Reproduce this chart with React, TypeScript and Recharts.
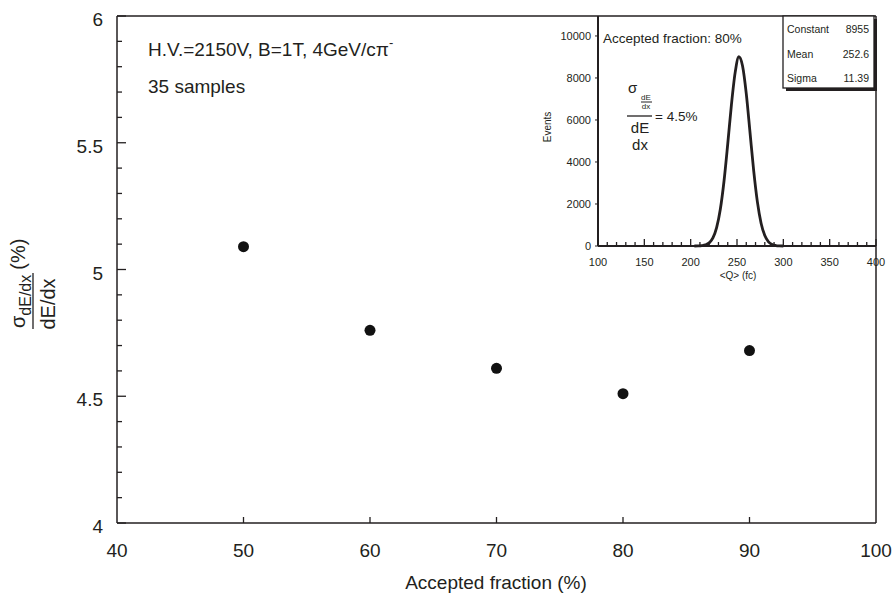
import React from "react";
import { ScatterChart, Scatter, XAxis, YAxis, ReferenceLine, LineChart, Line } from "recharts";

// main plot: resolution vs accepted fraction
const fractions = [50, 60, 70, 80, 90];
const resolution = [5.09, 4.76, 4.61, 4.51, 4.68];

const xTicks = [40, 50, 60, 70, 80, 90, 100];
const yMajor = [4, 4.5, 5, 5.5, 6];
const yMinor = [4.1, 4.2, 4.3, 4.4, 4.6, 4.7, 4.8, 4.9, 5.1, 5.2, 5.3, 5.4, 5.6, 5.7, 5.8, 5.9];

// inset: charge distribution at 80% accepted fraction
const charge = [204, 208, 212, 216, 220, 224, 228, 232, 236, 240, 244, 248, 252, 256, 260, 264, 268, 272, 276, 280, 284, 288, 292, 296, 300];
const events = [0, 4, 16, 51, 148, 383, 871, 1747, 3096, 4856, 6734, 8254, 9010, 8565, 7252, 5427, 3590, 2103, 1086, 496, 200, 71, 23, 6, 0];

const qMajor = [100, 150, 200, 250, 300, 350, 400];
const qMinor = [110, 120, 130, 140, 160, 170, 180, 190, 210, 220, 230, 240, 260, 270, 280, 290, 310, 320, 330, 340, 360, 370, 380, 390];
const eventTicks = [0, 2000, 4000, 6000, 8000, 10000];

const fitLabels = ["Constant", "Mean", "Sigma"];
const fitValues = ["8955", "252.6", "11.39"];

const INK = "#231f20";
const FONT = "'Liberation Sans', Arial, sans-serif";

const mainData = fractions.map((x, i) => ({ x, y: resolution[i] }));
const insetData = charge.map((q, i) => ({ q, n: events[i] }));
const yTicks = [...yMajor, ...yMinor].sort((a, b) => a - b);
const qTicks = [...qMajor, ...qMinor].sort((a, b) => a - b);

const MainXTick = (props: any) => {
  const { x, y, payload } = props;
  const v = payload.value;
  const inner = v !== 40 && v !== 100;
  return (
    <g>
      {inner && <line x1={x} x2={x} y1={y} y2={y - 6} stroke={INK} strokeWidth={1.3} />}
      <text x={x} y={y + 34} textAnchor="middle" fontSize={19} fill={INK} fontFamily={FONT}>
        {v}
      </text>
    </g>
  );
};

const MainYTick = (props: any) => {
  const { x, y, payload } = props;
  const v = payload.value;
  const major = yMajor.includes(v);
  return (
    <g>
      <line x1={x} x2={x + (major ? 9 : 5)} y1={y} y2={y} stroke={INK} strokeWidth={1.3} />
      {major && (
        <text x={x - 14} y={y + 10} textAnchor="end" fontSize={19} fill={INK} fontFamily={FONT}>
          {v}
        </text>
      )}
    </g>
  );
};

const InsetXTick = (props: any) => {
  const { x, y, payload } = props;
  const v = payload.value;
  const major = qMajor.includes(v);
  return (
    <g>
      <line x1={x} x2={x} y1={y} y2={y - (major ? 7 : 4)} stroke={INK} strokeWidth={1.3} />
      {major && (
        <text x={x} y={y + 20} textAnchor="middle" fontSize={11} fill={INK} fontFamily={FONT}>
          {v}
        </text>
      )}
    </g>
  );
};

const InsetYTick = (props: any) => {
  const { x, y, payload } = props;
  return (
    <g>
      <line x1={x - 3} x2={x} y1={y} y2={y} stroke={INK} strokeWidth={1} />
      <text x={x - 7} y={y + 4} textAnchor="end" fontSize={11} fill={INK} fontFamily={FONT}>
        {payload.value}
      </text>
    </g>
  );
};

const Dot = (props: any) => <circle cx={props.cx} cy={props.cy} r={5.5} fill="#111" />;

export default function App() {
  return (
    <div style={{ position: "absolute", left: 0, top: 0, width: 894, height: 597, background: "#fff", fontFamily: FONT }}>
      <ScatterChart width={894} height={597} margin={{ top: 16, right: 18, bottom: 34, left: 57 }}>
        <XAxis
          type="number"
          dataKey="x"
          domain={[40, 100]}
          ticks={xTicks}
          interval={0}
          height={40}
          tickSize={0}
          tickMargin={0}
          tickLine={false}
          axisLine={{ stroke: INK, strokeWidth: 1.5 }}
          tick={MainXTick}
        />
        <YAxis
          type="number"
          dataKey="y"
          domain={[4, 6]}
          ticks={yTicks}
          interval={0}
          width={60}
          tickSize={0}
          tickMargin={0}
          tickLine={false}
          axisLine={{ stroke: INK, strokeWidth: 1.5 }}
          tick={MainYTick}
        />
        <ReferenceLine y={6} stroke={INK} strokeWidth={1.5} />
        <ReferenceLine x={100} stroke={INK} strokeWidth={1.5} />
        <Scatter data={mainData} shape={Dot} isAnimationActive={false} />
      </ScatterChart>

      <div style={{ position: "absolute", left: 540, top: 0 }}>
        <LineChart width={354} height={290} data={insetData} margin={{ top: 16, right: 18, bottom: 14, left: 18 }}>
          <XAxis
            type="number"
            dataKey="q"
            domain={[100, 400]}
            ticks={qTicks}
            interval={0}
            height={30}
            tickSize={0}
            tickMargin={0}
            tickLine={false}
            axisLine={{ stroke: INK, strokeWidth: 2 }}
            tick={InsetXTick}
          />
          <YAxis
            type="number"
            domain={[0, 10950]}
            ticks={eventTicks}
            interval={0}
            width={40}
            tickSize={0}
            tickMargin={0}
            tickLine={false}
            axisLine={{ stroke: INK, strokeWidth: 2 }}
            tick={InsetYTick}
          />
          <Line type="monotone" dataKey="n" stroke={INK} strokeWidth={2.8} dot={false} isAnimationActive={false} />
        </LineChart>
      </div>

      <svg width={894} height={597} style={{ position: "absolute", left: 0, top: 0, pointerEvents: "none" }} fontFamily={FONT} fill={INK}>
        {/* main y title */}
        <g transform="translate(33,300) rotate(-90)">
          <text x={-28} y={-8} fontSize={20}>
            σ
            <tspan fontSize={16} dy={6}>dE/dx</tspan>
            <tspan fontSize={20} dy={-6} dx={5}>(%)</tspan>
          </text>
          <line x1={-29} x2={27} y1={0} y2={0} stroke={INK} strokeWidth={1.3} />
          <text x={-4} y={22} fontSize={20} textAnchor="middle">dE/dx</text>
        </g>
        <text x={496} y={589} fontSize={19} textAnchor="middle">Accepted fraction (%)</text>

        <text x={148} y={56} fontSize={19}>
          H.V.=2150V, B=1T, 4GeV/cπ<tspan fontSize={13} dy={-9}>-</tspan>
        </text>
        <text x={148} y={93} fontSize={19}>35 samples</text>

        {/* inset annotations */}
        <text x={603} y={43} fontSize={13.5}>Accepted fraction: 80%</text>
        <text x={628} y={93} fontSize={15}>σ</text>
        <text x={646} y={100} fontSize={8} textAnchor="middle">dE</text>
        <line x1={641} x2={652} y1={102} y2={102} stroke={INK} strokeWidth={1} />
        <text x={646} y={109} fontSize={8} textAnchor="middle">dx</text>
        <line x1={627} x2={652} y1={116} y2={116} stroke={INK} strokeWidth={1.3} />
        <text x={640} y={133} fontSize={15} textAnchor="middle">dE</text>
        <text x={640} y={150} fontSize={15} textAnchor="middle">dx</text>
        <text x={655} y={121} fontSize={13.5}>= 4.5%</text>
        <text transform="translate(551,127) rotate(-90)" fontSize={10} textAnchor="middle">Events</text>
        <text x={738} y={279} fontSize={10} textAnchor="middle">&lt;Q&gt; (fc)</text>

        {/* fit result box */}
        <rect x={786} y={19} width={91} height={72} fill={INK} />
        <rect x={783} y={16} width={91} height={72} fill="#fff" stroke={INK} strokeWidth={1.3} />
        {fitLabels.map((l, i) => (
          <g key={l}>
            <text x={787} y={33 + i * 24.5} fontSize={10.5}>{l}</text>
            <text x={869} y={33 + i * 24.5} fontSize={10.5} textAnchor="end">{fitValues[i]}</text>
          </g>
        ))}
      </svg>
    </div>
  );
}
